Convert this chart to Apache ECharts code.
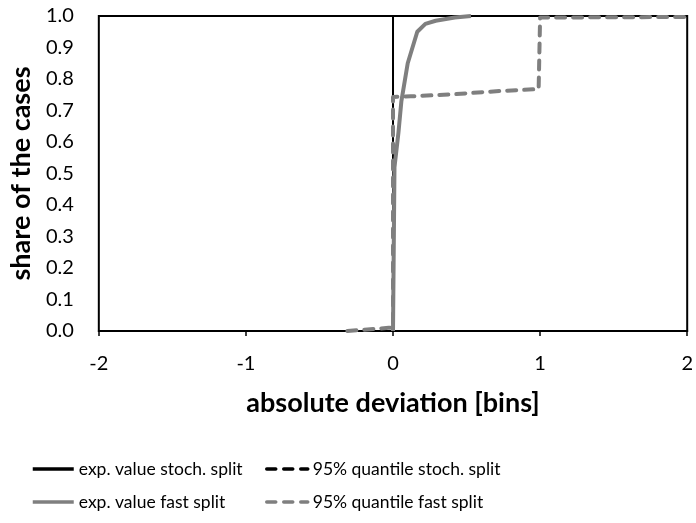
<!DOCTYPE html>
<html>
<head>
<meta charset="utf-8">
<script src="https://cdn.jsdelivr.net/npm/echarts@6/dist/echarts.min.js"></script>
<style>
  html, body { margin: 0; padding: 0; background: #fff; }
  #chart { width: 696px; height: 523px; }
</style>
</head>
<body>
<div id="chart"></div>
<script>
  // x: absolute deviation [bins], y: share of the cases
  var expStochX = [0, 0, 2];
  var expStochY = [0, 1, 1];
  var q95StochX = [0, 0, 2];
  var q95StochY = [0, 1, 1];
  var expFastX = [0, 0.01, 0.037, 0.057, 0.1, 0.165, 0.22, 0.29, 0.42, 0.53];
  var expFastY = [0, 0.52, 0.63, 0.73, 0.85, 0.95, 0.975, 0.985, 0.995, 1.0];
  var q95FastX = [-0.31, -0.03, 0, 0, 0.12, 0.39, 0.73, 0.99, 1.0, 1.0, 2];
  var q95FastY = [0, 0.01, 0.01, 0.743, 0.745, 0.751, 0.762, 0.768, 0.77, 0.995, 0.997];
  var xTicks = [-2, -1, 0, 1, 2];

  var names = ['exp. value stoch. split', '95% quantile stoch. split', 'exp. value fast split', '95% quantile fast split'];

  function pairs(xs, ys) {
    return xs.map(function (x, i) { return [x, ys[i]]; });
  }

  var font = 'Lato, "Liberation Sans", sans-serif';
  var chart = echarts.init(document.getElementById('chart'));

  function lineSeries(name, xs, ys, color, width, dashed) {
    return {
      name: name,
      type: 'line',
      data: pairs(xs, ys),
      symbol: 'none',
      animation: false,
      lineStyle: {
        color: color,
        width: width,
        type: dashed ? [9, 8] : 'solid',
        cap: dashed ? 'round' : 'butt',
        join: 'round'
      },
      itemStyle: { color: color }
    };
  }

  var legendBase = {
    orient: 'vertical',
    top: 460,
    padding: 0,
    itemWidth: 41, itemHeight: 16, itemGap: 15,
    itemStyle: { opacity: 0 },
    lineStyle: { width: 3.5 },
    textStyle: { fontFamily: font, fontSize: 17.5, color: '#000' }
  };

  chart.setOption({
    backgroundColor: '#fff',
    animation: false,
    textStyle: { fontFamily: font },
    grid: {
      left: 97, right: 4, top: 16, bottom: 192,
      show: true, borderColor: '#000', borderWidth: 2,
      backgroundColor: 'transparent'
    },
    legend: [
      Object.assign({ data: [names[0], names[2]], left: 31 }, legendBase),
      Object.assign({ data: [names[1], names[3]], left: 265 }, legendBase)
    ],
    xAxis: {
      type: 'value',
      min: -2, max: 2, interval: 1,
      name: 'absolute deviation [bins]',
      nameLocation: 'middle',
      nameGap: 59,
      nameTextStyle: { fontFamily: font, fontSize: 27, fontWeight: 'bold', color: '#000' },
      axisLine: { show: true, onZero: false, lineStyle: { color: '#000', width: 2 } },
      axisTick: { show: true, inside: false, length: 5, lineStyle: { color: '#000', width: 1.5 } },
      axisLabel: {
        fontFamily: font, fontSize: 20, color: '#000', margin: 23,
        customValues: xTicks,
        formatter: function (v) { return String(v); }
      },
      splitLine: { show: false }
    },
    yAxis: {
      type: 'value',
      min: 0, max: 1, interval: 0.1,
      name: 'share of the cases',
      nameLocation: 'middle',
      nameGap: 61,
      nameTextStyle: { fontFamily: font, fontSize: 27, fontWeight: 'bold', color: '#000' },
      axisLine: { show: true, lineStyle: { color: '#000', width: 2 } },
      axisTick: { show: false },
      axisLabel: {
        fontFamily: font, fontSize: 20, color: '#000', margin: 25,
        formatter: function (v) { return v.toFixed(1); }
      },
      splitLine: { show: false }
    },
    series: [
      lineSeries(names[0], expStochX, expStochY, '#000', 2, false),
      lineSeries(names[1], q95StochX, q95StochY, '#000', 2, true),
      lineSeries(names[2], expFastX, expFastY, '#7f7f7f', 4, false),
      lineSeries(names[3], q95FastX, q95FastY, '#7f7f7f', 4, true)
    ]
  });
</script>
</body>
</html>
